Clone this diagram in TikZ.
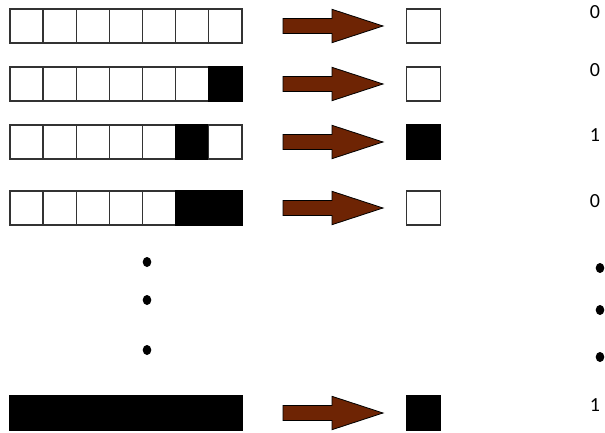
\documentclass[tikz,border=0pt]{standalone}
\usepackage{fontspec}
\setmainfont{Carlito}
\usetikzlibrary{calc}

\definecolor{arrowbrown}{RGB}{110,36,4}

\tikzset{
  cellbox/.style={draw=black!80, line width=1.3pt, minimum width=33.14pt,
    minimum height=34pt, inner sep=0pt, outer sep=0pt, anchor=north west},
  cell0/.style={fill=white},
  cell1/.style={fill=black, draw=black},
  outbox/.style={cellbox, minimum width=34pt},
  arrowshape/.style={fill=arrowbrown, draw=black, line width=0.8pt, line join=miter},
  lab/.style={font=\fontsize{20}{20}\selectfont, inner sep=0pt}
}

\begin{document}
\begin{tikzpicture}[x=1pt,y=-1pt]
\useasboundingbox (0,0) rectangle (605,433);

% rows: number / top / cells / output / label / label y
\foreach \r/\yt/\cells/\o/\lab/\ly in {
  1/9/{0,0,0,0,0,0,0}/0/0/12,
  2/67/{0,0,0,0,0,0,1}/0/0/70,
  3/125/{0,0,0,0,0,1,0}/1/1/135,
  4/191/{0,0,0,0,0,1,1}/0/0/201,
  5/396/{1,1,1,1,1,1,1}/1/1/405}
{
  \foreach \c [count=\i] in \cells
    \node[cellbox, cell\c] (c\r-\i) at ({10+(\i-1)*33.14}, \yt) {};
  \coordinate (a\r) at (283, \yt+17);
  \draw[arrowshape] ($(a\r)+(0,-7.5)$) -- ++(49,0) -- ++(0,-9.2)
    -- ++(51,16.7) -- ++(-51,16.7) -- ++(0,-9.2) -- ++(-49,0) -- cycle;
  \node[outbox, cell\o] (out\r) at (406.7, \yt) {};
  \node[lab] (l\r) at (595, \ly) {\lab};
}

% dots
\fill (147,262) ellipse (4.3 and 5);
\fill (147,300) ellipse (4.3 and 5);
\fill (147,350) ellipse (4.3 and 5);
\fill (600,268) ellipse (4.3 and 5);
\fill (600,310) ellipse (4.3 and 5);
\fill (600,357) ellipse (4.3 and 5);
\end{tikzpicture}
\end{document}
